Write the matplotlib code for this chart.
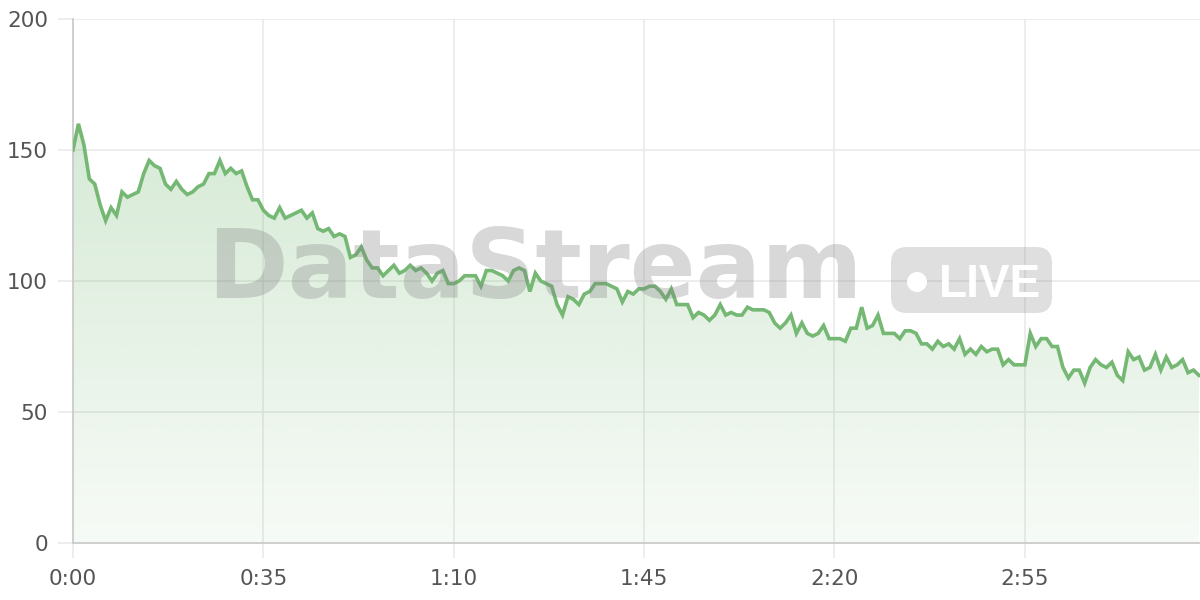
import matplotlib
matplotlib.use("Agg")
import matplotlib.pyplot as plt
import matplotlib.patches as mpatches
import numpy as np

# one reading per second, starting at 0:00
values = [
    150, 160, 152, 139, 137, 129, 123, 128, 125, 134,
    132, 133, 134, 141, 146, 144, 143, 137, 135, 138,
    135, 133, 134, 136, 137, 141, 141, 146, 141, 143,
    141, 142, 136, 131, 131, 127, 125, 124, 128, 124,
    125, 126, 127, 124, 126, 120, 119, 120, 117, 118,
    117, 109, 110, 113, 108, 105, 105, 102, 104, 106,
    103, 104, 106, 104, 105, 103, 100, 103, 104, 99,
    99, 100, 102, 102, 102, 98, 104, 104, 103, 102,
    100, 104, 105, 104, 96, 103, 100, 99, 98, 91,
    87, 94, 93, 91, 95, 96, 99, 99, 99, 98,
    97, 92, 96, 95, 97, 97, 98, 98, 96, 93,
    97, 91, 91, 91, 86, 88, 87, 85, 87, 91,
    87, 88, 87, 87, 90, 89, 89, 89, 88, 84,
    82, 84, 87, 80, 84, 80, 79, 80, 83, 78,
    78, 78, 77, 82, 82, 90, 82, 83, 87, 80,
    80, 80, 78, 81, 81, 80, 76, 76, 74, 77,
    75, 76, 74, 78, 72, 74, 72, 75, 73, 74,
    74, 68, 70, 68, 68, 68, 80, 75, 78, 78,
    75, 75, 67, 63, 66, 66, 61, 67, 70, 68,
    67, 69, 64, 62, 73, 70, 71, 66, 67, 72,
    66, 71, 67, 68, 70, 65, 66, 64,
]
tick_secs = [0, 35, 70, 105, 140, 175]
tick_labels = ["0:00", "0:35", "1:10", "1:45", "2:20", "2:55"]
y_ticks = [0, 50, 100, 150, 200]

secs = np.arange(len(values))
lineColor = "#74b874"
gridColor = "#e8e8e8"
textColor = "#555555"
fontSize = 15.5

plt.rcParams['font.family'] = ['DejaVu Sans']

fig = plt.figure(figsize=(12, 6), dpi=100)
ax1 = fig.add_axes([73/1200, 57/600, 1 - 73/1200, (543-19)/600])

# gradient fill under the line
poly = ax1.fill_between(secs, values, 0, color='none', lw=0)
grad = np.linspace(0.06, 0.30, 256).reshape(-1, 1)
rgba = np.zeros((256, 1, 4))
rgba[..., 0] = 0x74/255
rgba[..., 1] = 0xb8/255
rgba[..., 2] = 0x74/255
rgba[..., 3] = grad
img = ax1.imshow(rgba, extent=[0, len(values) - 1, 0, 160], origin='lower',
                 aspect='auto', zorder=1, interpolation='bilinear')
img.set_clip_path(poly.get_paths()[0], transform=ax1.transData)

ax1.plot(secs, values, color=lineColor, lw=2.6, zorder=4, solid_joinstyle='miter')

# watermark (positions in inches from bottom-left, 100 px per inch)
fig.text(5.35, 6 - 2.98, "DataStream", fontsize=70, fontweight='bold',
         color='#808080', alpha=0.3, ha='center', va='baseline', zorder=3,
         transform=fig.dpi_scale_trans)
pill = mpatches.FancyBboxPatch((8.91, 6 - 3.13), 1.61, 0.66,
                               boxstyle="round,pad=0,rounding_size=0.16",
                               transform=fig.dpi_scale_trans, facecolor='#808080',
                               alpha=0.25, edgecolor='none', zorder=3)
fig.patches.append(pill)
fig.patches.append(mpatches.Circle((9.17, 6 - 2.82), 0.10,
                                   transform=fig.dpi_scale_trans, facecolor='white',
                                   edgecolor='none', zorder=3.5))
fig.text(9.39, 6 - 2.97, "LIVE", fontsize=33, fontweight='bold',
         family='Liberation Sans', color='white', ha='left', va='baseline',
         zorder=3.5, transform=fig.dpi_scale_trans)

ax1.set_xlim(0, len(values) - 0.8)
ax1.set_ylim(0, 200)
ax1.set_xticks(tick_secs)
ax1.set_xticklabels(tick_labels)
ax1.set_yticks(y_ticks)

ax1.grid(True, color=gridColor, lw=1.1, zorder=0)
ax1.set_axisbelow(True)
for s in ['top', 'right']:
    ax1.spines[s].set_visible(False)
for s in ['left', 'bottom']:
    ax1.spines[s].set_color('#cccccc')
    ax1.spines[s].set_linewidth(1.3)

ax1.tick_params(axis='y', length=11, width=1.1, color=gridColor, pad=7,
                labelsize=fontSize, labelcolor=textColor)
ax1.tick_params(axis='x', length=11, width=1.1, color=gridColor, pad=8,
                labelsize=fontSize, labelcolor=textColor)

plt.savefig('out.png', dpi=100)
